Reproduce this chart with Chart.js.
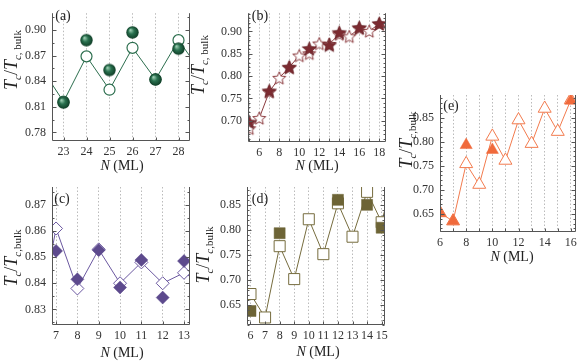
<!DOCTYPE html>
<html>
<head>
<meta charset="utf-8">
<script src="https://cdn.jsdelivr.net/npm/chart.js@4.4.0/dist/chart.umd.min.js"></script>
<style>
  html, body { margin: 0; padding: 0; background: #fff; }
  #wrap { position: relative; width: 581px; height: 362px; }
  #wrap canvas { position: absolute; left: 0; top: 0; }
</style>
</head>
<body>
<div id="wrap">
  <canvas id="pa" width="581" height="362"></canvas>
  <canvas id="pb" width="581" height="362"></canvas>
  <canvas id="pc" width="581" height="362"></canvas>
  <canvas id="pd" width="581" height="362"></canvas>
  <canvas id="pe" width="581" height="362"></canvas>
</div>
<script>
// (a)
const aN = [22, 23, 24, 25, 26, 27, 28, 29];
const aOpen = [0.857, 0.816, 0.869, 0.830, 0.879, 0.842, 0.888, 0.850];
const aFilledN = [23, 24, 25, 26, 27, 28];
const aFilled = [0.815, 0.888, 0.853, 0.897, 0.842, 0.878];
const aXTicks = [23, 24, 25, 26, 27, 28];
const aYTicks = [0.78, 0.81, 0.84, 0.87, 0.90];

// (b)
const bN = [5, 6, 7, 8, 9, 10, 11, 12, 13, 14, 15, 16, 17, 18, 19];
const bOpen = [0.683, 0.706, 0.765, 0.796, 0.820, 0.846, 0.851, 0.873, 0.872, 0.894, 0.889, 0.907, 0.901, 0.917, 0.908];
const bFilledN = [5, 7, 9, 11, 13, 14, 16, 18];
const bFilled = [0.697, 0.767, 0.820, 0.862, 0.870, 0.898, 0.909, 0.918];
const bXTicks = [5, 6, 7, 8, 9, 10, 11, 12, 13, 14, 15, 16, 17, 18];
const bYTicks = [0.70, 0.75, 0.80, 0.85, 0.90];

// (c)
const cN = [6, 7, 8, 9, 10, 11, 12, 13, 14];
const cOpen = [0.818, 0.861, 0.838, 0.853, 0.840, 0.848, 0.840, 0.844, 0.839];
const cFilledN = [7, 8, 9, 10, 11, 12, 13];
const cFilled = [0.8524, 0.8415, 0.8527, 0.8384, 0.8489, 0.8345, 0.8485];
const cXTicks = [7, 8, 9, 10, 11, 12, 13];
const cYTicks = [0.83, 0.84, 0.85, 0.86, 0.87];

// (d)
const dN = [6, 7, 8, 9, 10, 11, 12, 13, 14, 15, 16];
const dOpen = [0.672, 0.625, 0.768, 0.702, 0.822, 0.752, 0.854, 0.787, 0.877, 0.816, 0.93];
const dFilledN = [6, 8, 12, 14, 15];
const dFilled = [0.638, 0.794, 0.861, 0.851, 0.805];
const dXTicks = [6, 7, 8, 9, 10, 11, 12, 13, 14, 15];
const dYTicks = [0.65, 0.70, 0.75, 0.80, 0.85];

// (e)
const eN = [6, 7, 8, 9, 10, 11, 12, 13, 14, 15, 16];
const eOpen = [0.652, 0.635, 0.754, 0.711, 0.811, 0.761, 0.845, 0.796, 0.869, 0.821, 0.887];
const eFilledN = [6, 7, 8, 10, 16];
const eFilled = [0.652, 0.635, 0.793, 0.783, 0.885];
const eXTicks = [6, 7, 8, 9, 10, 11, 12, 13, 14, 15, 16];
const eYTicks = [0.65, 0.70, 0.75, 0.80, 0.85];

const W = 581, H = 362, YW = 40, XH = 20;
const SERIF = '"Liberation Serif", "DejaVu Serif", serif';
const TXT = '#333', AXIS = '#555', GRID = '#aaa';
Chart.defaults.font.family = SERIF;

const pts = (xs, ys) => xs.map((x, i) => ({ x: x, y: ys[i] }));

function sphere(r, light, base, dark) {
  const c = document.createElement('canvas');
  const s = Math.ceil(2 * r + 2);
  c.width = c.height = s;
  const g = c.getContext('2d'), m = s / 2;
  const grad = g.createRadialGradient(m - r * 0.35, m - r * 0.4, r * 0.05, m, m, r);
  grad.addColorStop(0, light);
  grad.addColorStop(0.45, base);
  grad.addColorStop(1, dark);
  g.beginPath();
  g.arc(m, m, r, 0, Math.PI * 2);
  g.fillStyle = grad;
  g.fill();
  return c;
}

function star(r, fill, stroke, lw) {
  const c = document.createElement('canvas');
  const s = Math.ceil(2 * r + 2 * lw + 2);
  c.width = c.height = s;
  const g = c.getContext('2d'), m = s / 2, my = m + r * 0.1;
  g.beginPath();
  for (let k = 0; k < 10; k++) {
    const rr = k % 2 ? r * 0.45 : r;
    const ang = -Math.PI / 2 + k * Math.PI / 5;
    g.lineTo(m + rr * Math.cos(ang), my + rr * Math.sin(ang));
  }
  g.closePath();
  g.fillStyle = fill;
  g.fill();
  g.lineWidth = lw;
  g.strokeStyle = stroke;
  g.lineJoin = 'miter';
  g.stroke();
  return c;
}

function drawRuns(ctx, runs, x, y, rot) {
  ctx.save();
  ctx.translate(x, y);
  if (rot) ctx.rotate(-Math.PI / 2);
  let w = 0;
  runs.forEach(r => { ctx.font = r.f; w += ctx.measureText(r.t).width; });
  let cx = -w / 2;
  ctx.fillStyle = '#222';
  ctx.textAlign = 'left';
  ctx.textBaseline = 'alphabetic';
  runs.forEach(r => {
    ctx.font = r.f;
    ctx.fillText(r.t, cx, r.dy || 0);
    cx += ctx.measureText(r.t).width;
  });
  ctx.restore();
}

function yRuns(sub) {
  const big = `italic 18px ${SERIF}`, up = `18px ${SERIF}`;
  const small = `italic 11px ${SERIF}`, smallUp = `11px ${SERIF}`;
  return [
    { t: 'T', f: big }, { t: 'c', f: small, dy: 4 }, { t: '/', f: up },
    { t: 'T', f: big }, { t: 'c', f: small, dy: 4 }, { t: sub, f: smallUp, dy: 4 }
  ];
}
const xRuns = [{ t: 'N', f: `italic 14px ${SERIF}` }, { t: ' (ML)', f: `14px ${SERIF}` }];

// frame, inward ticks, titles and panel tag
function deco(p) {
  return {
    id: 'deco',
    afterDraw(chart) {
      const ctx = chart.ctx, a = chart.chartArea;
      const xs = chart.scales.x, ys = chart.scales.y;
      const L = Math.round(a.left) + 0.5, R = Math.round(a.right) - 0.5, B = Math.round(a.bottom) - 0.5;
      ctx.save();
      ctx.strokeStyle = AXIS;
      ctx.lineWidth = 1;
      ctx.beginPath();
      ctx.moveTo(L, a.top); ctx.lineTo(L, B); ctx.lineTo(R, B); ctx.lineTo(R, a.top);
      ys.ticks.forEach(t => {
        const y = Math.round(ys.getPixelForValue(t.value)) + 0.5;
        ctx.moveTo(L, y); ctx.lineTo(L + 4, y);
        ctx.moveTo(R, y); ctx.lineTo(R - 4, y);
      });
      const n0 = Math.ceil(ys.min / p.minor - 1e-6), n1 = Math.floor(ys.max / p.minor + 1e-6);
      for (let n = n0; n <= n1; n++) {
        const y = Math.round(ys.getPixelForValue(n * p.minor)) + 0.5;
        ctx.moveTo(L, y); ctx.lineTo(L + 2, y);
        ctx.moveTo(R, y); ctx.lineTo(R - 2, y);
      }
      xs.ticks.forEach(t => {
        const x = Math.round(xs.getPixelForValue(t.value)) + 0.5;
        ctx.moveTo(x, B); ctx.lineTo(x, B - 3);
      });
      ctx.stroke();
      ctx.restore();
      drawRuns(ctx, yRuns(p.sub), p.yt[0], p.yt[1], true);
      drawRuns(ctx, xRuns, p.xt[0], p.xt[1], false);
      drawRuns(ctx, [{ t: p.tag, f: `14px ${SERIF}` }], p.tg[0], p.tg[1], false);
    }
  };
}

function makePanel(id, area, xr, yr, xTicks, yTicks, xStep, datasets, p) {
  new Chart(document.getElementById(id), {
    type: 'scatter',
    data: { datasets: datasets },
    options: {
      responsive: false,
      animation: false,
      events: [],
      layout: {
        autoPadding: false,
        padding: { left: area[0] - YW, top: area[1], right: W - area[2], bottom: H - area[3] - XH }
      },
      plugins: { legend: { display: false }, tooltip: { enabled: false } },
      scales: {
        x: {
          type: 'linear', min: xr[0], max: xr[1],
          afterBuildTicks: s => { s.ticks = xTicks.map(v => ({ value: v })); },
          afterFit: s => { s.height = XH; },
          ticks: {
            autoSkip: false, maxRotation: 0, padding: 4, color: TXT,
            font: { family: SERIF, size: 12 },
            callback: v => (v % xStep === 0 ? String(v) : '')
          },
          grid: { display: true, drawTicks: false, color: GRID, lineWidth: 0.8 },
          border: { display: false, dash: [1.5, 2] }
        },
        y: {
          type: 'linear', min: yr[0], max: yr[1],
          afterBuildTicks: s => { s.ticks = yTicks.map(v => ({ value: v })); },
          afterFit: s => { s.width = YW; },
          ticks: { padding: 6, color: TXT, font: { family: SERIF, size: 12 }, callback: v => v.toFixed(2) },
          grid: { display: false, drawTicks: false },
          border: { display: false }
        }
      }
    },
    plugins: [deco(p)]
  });
}

function lineSet(x, y, color, style, radius, bw) {
  return {
    data: pts(x, y), showLine: true, borderColor: color, borderWidth: 1,
    pointStyle: style, pointRadius: radius, pointBackgroundColor: '#fff',
    pointBorderColor: color, pointBorderWidth: bw
  };
}
function dotSet(x, y, color, style, radius) {
  return {
    data: pts(x, y), showLine: false, pointStyle: style, pointRadius: radius,
    pointBackgroundColor: color, pointBorderColor: color, pointBorderWidth: 0.5
  };
}

// (a)
makePanel('pa', [52, 3, 190, 141], [22.5, 28.5], [0.770, 0.9195], aXTicks, aYTicks, 1, [
  dotSet(aFilledN, aFilled, '#1d5c3c', sphere(6.2, '#9fd0b4', '#2a7250', '#0f3d26'), 6),
  lineSet(aN, aOpen, '#2c6e4e', 'circle', 5.5, 1.2)
], { minor: 0.015, sub: ', bulk', yt: [17, 60], xt: [122, 170], tg: [63, 20], tag: '(a)' });

// (b)
const darkRed = '#7c2b31';
makePanel('pb', [248, 3, 386, 142], [4.87, 18.67], [0.6523, 0.9409], bXTicks, bYTicks, 2, [
  dotSet(bFilledN, bFilled, darkRed, star(7.5, darkRed, '#5e1c22', 0.6), 7.5),
  lineSet(bN, bOpen, '#8b3a3e', star(6.8, '#fff', '#8b3a3e', 1), 6.8, 1)
], { minor: 0.01, sub: ', bulk', yt: [204, 65], xt: [317, 170], tg: [260, 20], tag: '(b)' });

// (c)
const purple = '#5d4a8d';
makePanel('pc', [52, 187, 190, 325], [6.81, 13.28], [0.824, 0.8769], cXTicks, cYTicks, 1, [
  dotSet(cFilledN, cFilled, purple, 'rectRot', 6.5),
  lineSet(cN, cOpen, '#6b58a0', 'rectRot', 6.5, 1)
], { minor: 0.005, sub: ',bulk', yt: [17, 258], xt: [122, 357], tg: [62, 203], tag: '(c)' });

// (d)
const olive = '#6d6436';
makePanel('pd', [247, 187, 385, 325], [5.76, 15.23], [0.6099, 0.8867], dXTicks, dYTicks, 1, [
  dotSet(dFilledN, dFilled, olive, 'rect', 7.8),
  lineSet(dN, dOpen, '#766c3e', 'rect', 7.8, 1)
], { minor: 0.01, sub: ',bulk', yt: [209, 255], xt: [318, 356], tg: [260, 203], tag: '(d)' });

// (e)
const orange = '#f06a3c';
makePanel('pe', [440, 95, 577, 232], [6, 16.4], [0.6124, 0.897], eXTicks, eYTicks, 2, [
  dotSet(eFilledN, eFilled, orange, 'triangle', 7),
  lineSet(eN, eOpen, '#f27b4e', 'triangle', 7.5, 1)
], { minor: 0.01, sub: ',bulk', yt: [412, 140], xt: [512, 261], tg: [451, 110], tag: '(e)' });
</script>
</body>
</html>
